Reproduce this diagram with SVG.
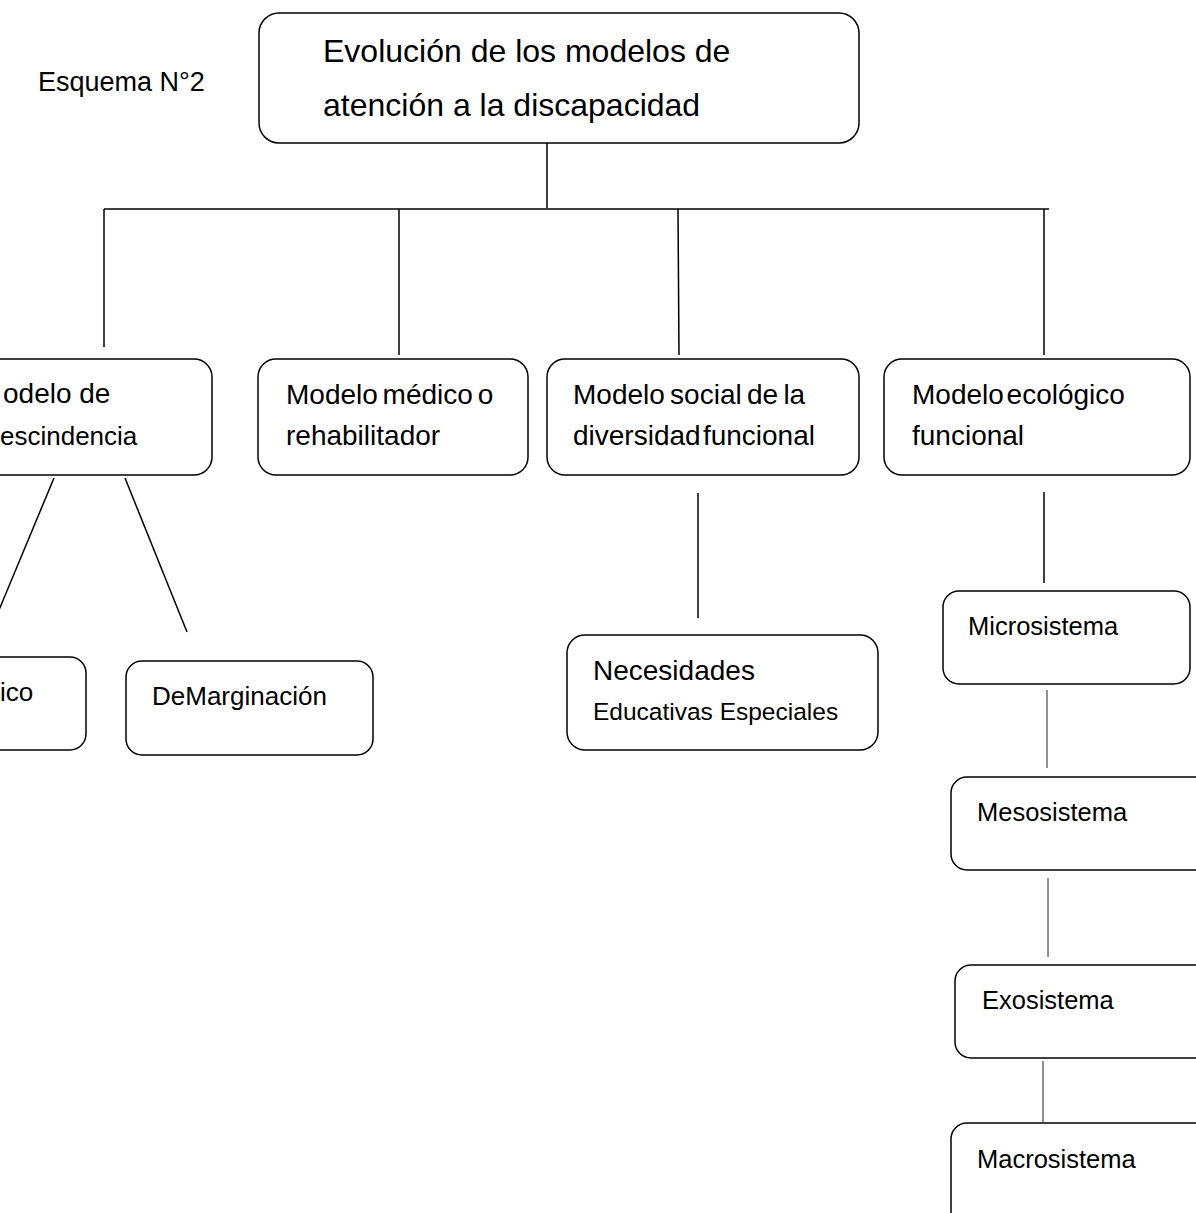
<svg xmlns="http://www.w3.org/2000/svg" width="1196" height="1213" viewBox="0 0 1196 1213">
<style>
.box{fill:#fff;stroke:#000;stroke-width:1.5}
.t{font-family:"Liberation Sans",Arial,sans-serif;fill:#000}
.c{stroke:#000;stroke-width:1.5;fill:none}
.c2{stroke:#222;stroke-width:1;fill:none}
</style>
<rect width="1196" height="1213" fill="#fff"/>
<text class="t" x="38" y="91" font-size="27">Esquema N°2</text>
<g id="connectors">
<line class="c" x1="547" y1="143" x2="547" y2="208"/>
<line class="c" x1="104" y1="209" x2="1049" y2="209"/>
<line class="c" x1="104" y1="209" x2="104" y2="347"/>
<line class="c" x1="399" y1="209" x2="399" y2="355"/>
<line class="c" x1="678" y1="209" x2="679" y2="355"/>
<line class="c" x1="1044" y1="209" x2="1044" y2="355"/>
<line class="c" x1="54" y1="478" x2="-1" y2="610"/>
<line class="c" x1="125" y1="478" x2="187" y2="632"/>
<line class="c" x1="698" y1="493" x2="698" y2="618"/>
<line class="c" x1="1044" y1="492" x2="1044" y2="583"/>
<line class="c2" x1="1047" y1="690" x2="1047" y2="768"/>
<line class="c2" x1="1048" y1="878" x2="1048" y2="957"/>
<line class="c2" x1="1043" y1="1061" x2="1043" y2="1122"/>
</g>
<g id="root">
<rect class="box" x="259" y="13" width="600" height="130" rx="20"/>
<text class="t" x="323" y="62" font-size="32">Evolución de los modelos de</text>
<text class="t" x="323" y="116" font-size="32">atención a la discapacidad</text>
</g>
<g id="prescindencia">
<rect class="box" x="-60" y="359" width="272" height="116" rx="18"/>
<text class="t" x="3" y="403" font-size="28">odelo de</text>
<text class="t" x="0" y="445" font-size="26">escindencia</text>
</g>
<g id="medico">
<rect class="box" x="258" y="359" width="270" height="116" rx="18"/>
<text class="t" x="286" y="404" font-size="28" word-spacing="-3">Modelo médico o</text>
<text class="t" x="286" y="445" font-size="28">rehabilitador</text>
</g>
<g id="social">
<rect class="box" x="547" y="359" width="312" height="116" rx="18"/>
<text class="t" x="573" y="404" font-size="28" word-spacing="-2.5">Modelo social de la</text>
<text class="t" x="573" y="445" font-size="28" word-spacing="-5.5">diversidad funcional</text>
</g>
<g id="ecologico">
<rect class="box" x="884" y="359" width="306" height="116" rx="18"/>
<text class="t" x="912" y="404" font-size="28" word-spacing="-5">Modelo ecológico</text>
<text class="t" x="912" y="445" font-size="28">funcional</text>
</g>
<g id="ico">
<rect class="box" x="-60" y="657" width="146" height="93" rx="16"/>
<text class="t" x="0" y="701" font-size="26">ico</text>
</g>
<g id="marginacion">
<rect class="box" x="126" y="661" width="247" height="94" rx="16"/>
<text class="t" x="152" y="705" font-size="26">DeMarginación</text>
</g>
<g id="nee">
<rect class="box" x="567" y="635" width="311" height="115" rx="18"/>
<text class="t" x="593" y="680" font-size="28">Necesidades</text>
<text class="t" x="593" y="720" font-size="24.5">Educativas Especiales</text>
</g>
<g id="micro">
<rect class="box" x="943" y="591" width="247" height="93" rx="16"/>
<text class="t" x="968" y="635" font-size="25.5">Microsistema</text>
</g>
<g id="meso">
<rect class="box" x="951" y="777" width="260" height="93" rx="16"/>
<text class="t" x="977" y="821" font-size="25.5">Mesosistema</text>
</g>
<g id="exo">
<rect class="box" x="955" y="965" width="260" height="93" rx="16"/>
<text class="t" x="982" y="1009" font-size="25.5">Exosistema</text>
</g>
<g id="macro">
<rect class="box" x="951" y="1123" width="260" height="120" rx="16"/>
<text class="t" x="977" y="1168" font-size="25.5">Macrosistema</text>
</g>
</svg>
